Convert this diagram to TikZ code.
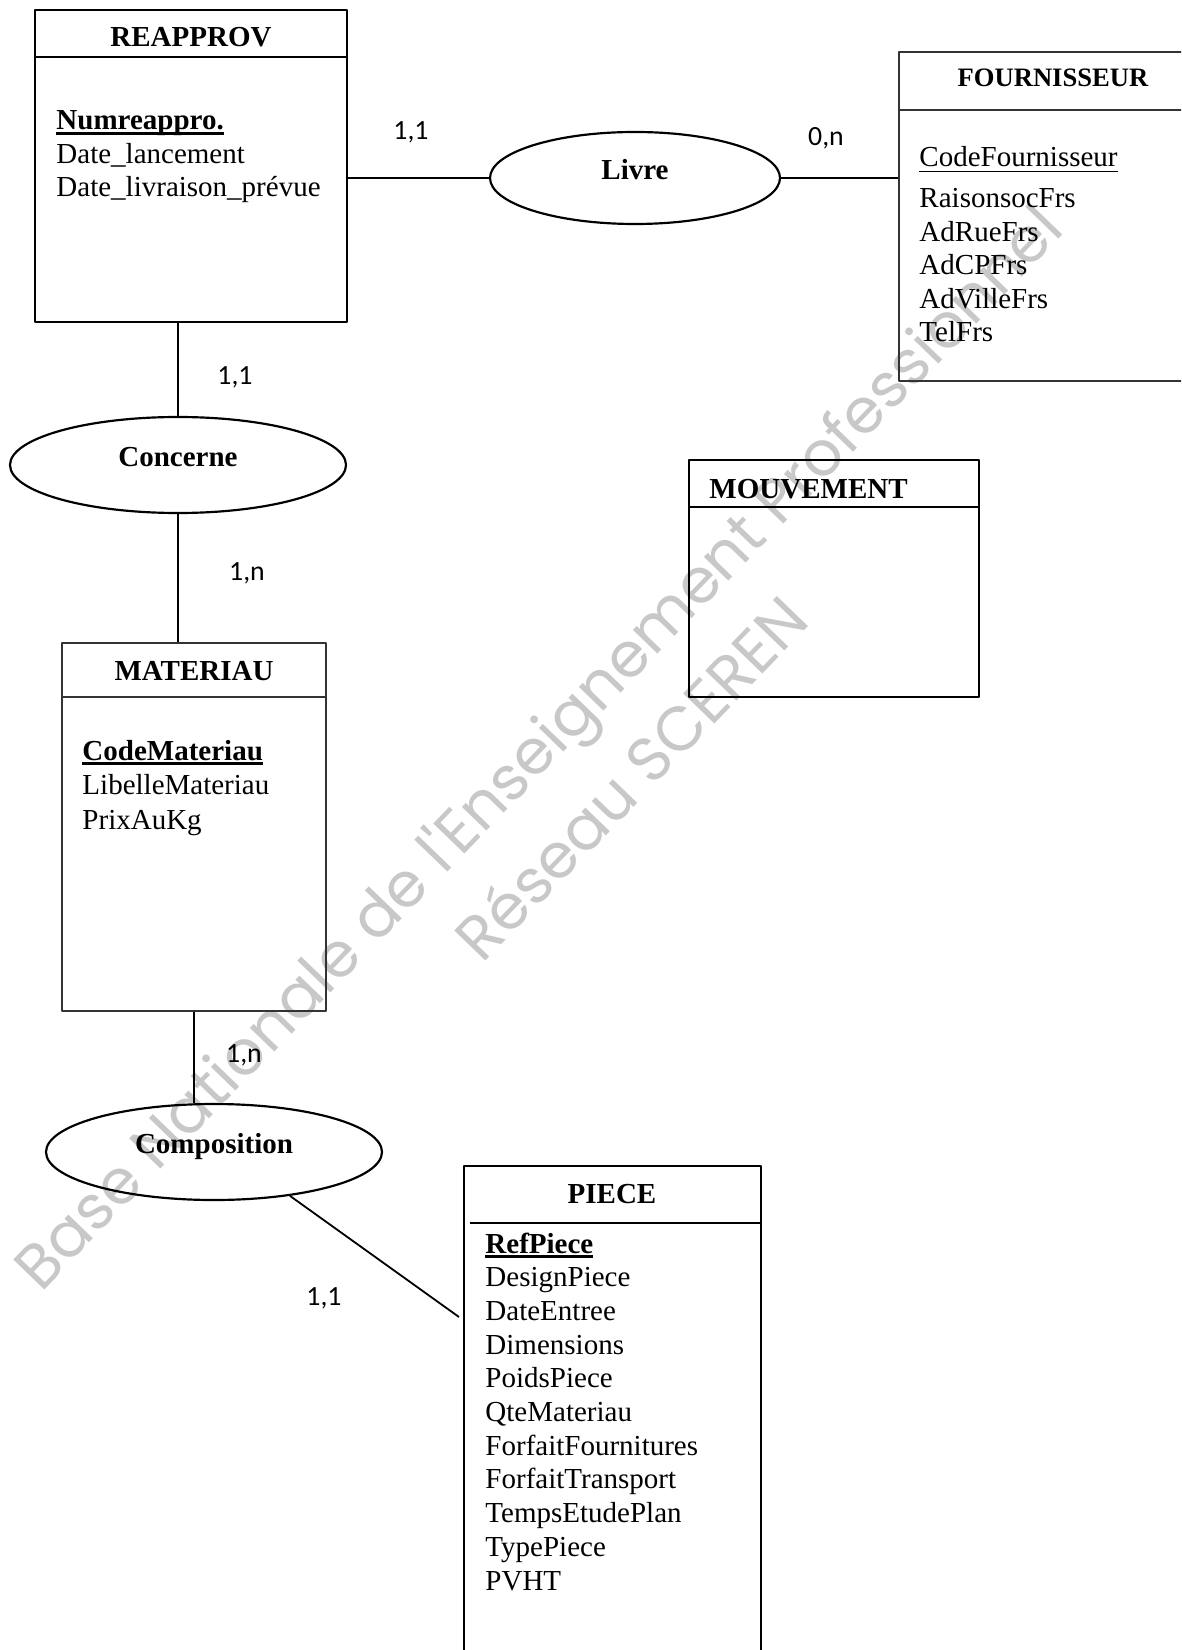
\documentclass[tikz,border=0pt]{standalone}
\usepackage{fontspec}
\setmainfont{Liberation Serif}
\newfontfamily\cardfont{Carlito}
\newfontfamily\markfont{Poppins}
\usetikzlibrary{shapes.geometric, fit}
\definecolor{markgray}{RGB}{200,200,200}
\newcommand{\pxu}{0.4138pt}
\newcommand{\keyattr}[2][1.1pt]{\setbox0\hbox{#2}\rlap{\rule[-2.1pt]{\wd0}{#1}}\box0}

\begin{document}
\begin{tikzpicture}[
        x=0.4138pt, y=-0.4138pt,
        line join=bevel,
        bigentity/.style={draw=black, line width=0.9pt, inner sep=0pt},
        smallentity/.style={draw=black!80, line width=0.55pt, inner sep=0pt},
        relation/.style={shape=ellipse, draw=black, line width=0.9pt, inner sep=0pt, font=\bfseries\fontsize{12}{14}\selectfont, text height=0.7em, text depth=0.58em},
        title/.style={anchor=base, inner sep=0pt, font=\bfseries\fontsize{12}{14}\selectfont},
        attr/.style={anchor=base west, inner sep=0pt, font=\fontsize{12}{14}\selectfont},
        card/.style={inner sep=0pt, font=\cardfont\fontsize{11.5}{13}\selectfont},
        link/.style={line width=0.75pt},
        watermark/.style={inner sep=0pt, rotate=46, text=markgray, font=\markfont\fontsize{25.7}{30}\selectfont}
        ]

        \useasboundingbox (0,0) rectangle (1181,1650);
        \clip (0,0) rectangle (1181,1650);

        %% Watermark
        \node[watermark] (markline) at (542,751) {Base Nationale de l'Enseignement Professionnel};
        \node[watermark] (marksub) at (630,777) {Réseau SCEREN};

        %% Entities
        \node[bigentity, fit={(35,10) (347,322)}] (reapprov) {};
        \draw[line width=0.9pt] (35,57) -- (347,57);
        \node[title] (reapprovtitle) at (191,47) {REAPPROV};
        \node[attr] (reapprovkey) at (56,130) {\keyattr{\textbf{Numreappro.}}};
        \foreach \attr [count=\i] in {Date\_lancement, Date\_livraison\_prévue} {
            \node[attr] (reapprovattr\i) at (56,{130+33.3*\i}) {\attr};
        }

        \node[smallentity, fit={(899,52) (1200,381)}] (fournisseur) {};
        \draw[draw=black!80, line width=0.55pt] (899,110) -- (1200,110);
        \node[title, font=\bfseries\fontsize{11}{13}\selectfont] (fournisseurtitle) at (1053,87) {FOURNISSEUR};
        \node[attr] (fournisseurkey) at (919,167) {\keyattr[0.5pt]{CodeFournisseur}};
        \foreach \attr [count=\i from 0] in {RaisonsocFrs, AdRueFrs, AdCPFrs, AdVilleFrs, TelFrs} {
            \node[attr] (fournisseurattr\i) at (919,{208+33.5*\i}) {\attr};
        }

        \node[bigentity, fit={(689,460) (979,697)}] (mouvement) {};
        \draw[line width=0.9pt] (689,507) -- (979,507);
        \node[title, anchor=base west] (mouvementtitle) at (709,498) {MOUVEMENT};

        \node[smallentity, fit={(62,643) (326,1011)}] (materiau) {};
        \draw[draw=black!80, line width=0.55pt] (62,697) -- (326,697);
        \node[title] (materiautitle) at (194,680) {MATERIAU};
        \node[attr] (materiaukey) at (82,760) {\keyattr{\textbf{CodeMateriau}}};
        \foreach \attr [count=\i] in {LibelleMateriau, PrixAuKg} {
            \node[attr] (materiauattr\i) at (82,{760+34.5*\i}) {\attr};
        }

        \node[bigentity, fit={(464,1166) (761,1700)}] (piece) {};
        \draw[line width=0.9pt] (470,1223) -- (761,1223);
        \node[title] (piecetitle) at (612,1203) {PIECE};
        \node[attr] (piecekey) at (485,1253) {\keyattr{\textbf{RefPiece}}};
        \foreach \attr [count=\i] in {DesignPiece, DateEntree, Dimensions, PoidsPiece, QteMateriau, ForfaitFournitures, ForfaitTransport, TempsEtudePlan, TypePiece, PVHT} {
            \node[attr] (pieceattr\i) at (485,{1253+33.7*\i}) {\attr};
        }

        %% Associations
        \node[relation, minimum width={290*\pxu}, minimum height={92*\pxu}] (livre) at (635,178) {Livre};
        \node[relation, minimum width={336*\pxu}, minimum height={96*\pxu}] (concerne) at (178,465) {Concerne};
        \node[relation, minimum width={336*\pxu}, minimum height={96*\pxu}] (composition) at (214,1152) {Composition};

        %% Links
        \draw[link] (livre.west -| reapprov.east) -- (livre.west);
        \draw[link] (livre.east) -- (livre.east -| fournisseur.west);
        \draw[link] (concerne.north |- reapprov.south) -- (concerne.north);
        \draw[link] (concerne.south) -- (concerne.south |- materiau.north);
        \draw[link] (materiau.south) -- (materiau.south |- composition.north);
        \coordinate (pieceend) at (459,1317);
        \draw[link] (composition.-30) -- (pieceend);

        %% Cardinalities
        \node[card] (cardreapprovlivre) at (411,132) {1,1};
        \node[card] (cardfournisseurlivre) at (826,138) {0,n};
        \node[card] (cardreapprovconcerne) at (235,377) {1,1};
        \node[card] (cardmateriauconcerne) at (247,573) {1,n};
        \node[card] (cardmateriaucomposition) at (244,1055) {1,n};
        \node[card] (cardpiececomposition) at (324,1298) {1,1};
\end{tikzpicture}
\end{document}
